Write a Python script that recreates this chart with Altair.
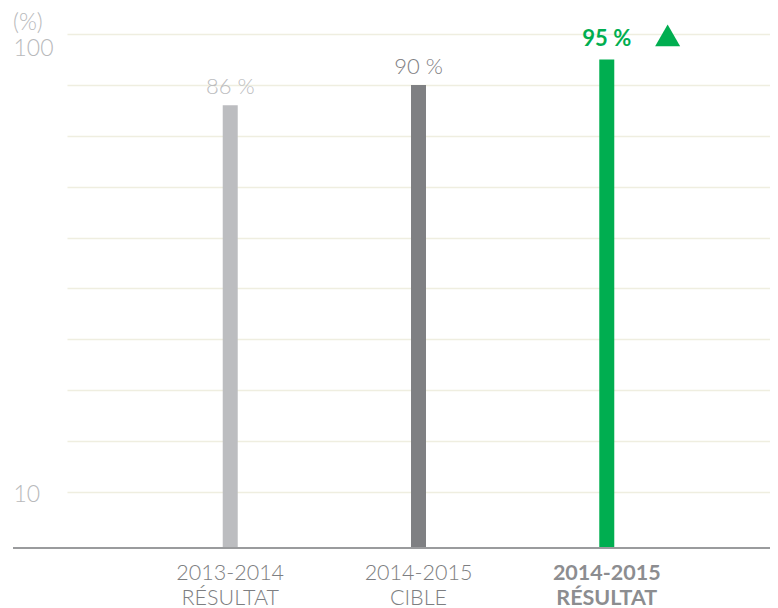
import altair as alt
import pandas as pd

categories = ["2013-2014|RÉSULTAT", "2014-2015|CIBLE", "2014-2015|RÉSULTAT"]
values = [86, 90, 95]
value_labels = ["86 %", "90 %", "95 %"]
bar_colors = ["#bcbdc0", "#7f8083", "#00ae50"]
label_colors = ["#b5b6b8", "#77787b", "#00ae50"]
grid_values = [10, 20, 30, 40, 50, 60, 70, 80, 90, 100]
shown_ticks = [10, 100]
baseline_value = -1

df = pd.DataFrame({"cat": categories, "value": values, "label": value_labels})
FONT = "Lato"
HIGHLIGHT = categories[2]
W = 703

x_enc = alt.X(
    "cat:N",
    sort=categories,
    scale=alt.Scale(paddingInner=0, paddingOuter=0.367, align=0.5),
    axis=alt.Axis(
        title=None, domain=False, ticks=False,
        labelExpr="split(datum.value, '|')",
        labelAngle=0, labelFont=FONT, labelFontSize=21.5, labelLineHeight=25,
        labelPadding=14, labelBaseline="top",
        labelColor={"condition": {"test": f"datum.value == '{HIGHLIGHT}'", "value": "#8c8d90"}, "value": "#7d7e81"},
        labelFontWeight={"condition": {"test": f"datum.value == '{HIGHLIGHT}'", "value": "bold"}, "value": 300},
    ),
)

y_scale = alt.Scale(domain=[baseline_value, 100], nice=False, zero=False)
label_expr = " || ".join(f"datum.value == {v}" for v in shown_ticks)

base = alt.Chart(df)

bars = base.mark_bar(size=15).encode(
    x=x_enc,
    y=alt.Y("value:Q", scale=y_scale,
            axis=alt.Axis(title=None, values=grid_values, domain=False, ticks=False,
                          gridColor="#efeee0", gridWidth=1.5,
                          labelExpr=f"({label_expr}) ? datum.label : ''",
                          labelAlign="left", labelPadding=54, labelFont=FONT,
                          labelFontSize=23, labelFontWeight=300, labelColor="#b8b9bb",
                          labelBaseline="middle",
                          labelOffset={"condition": {"test": "datum.value == 100", "value": 14}, "value": 2}),
            ),
    y2=alt.datum(baseline_value),
    color=alt.Color("cat:N", scale=alt.Scale(domain=categories, range=bar_colors), legend=None),
)

text_color = alt.Color("cat:N", scale=alt.Scale(domain=categories, range=label_colors), legend=None)

texts_normal = base.transform_filter(f"datum.cat != '{HIGHLIGHT}'").mark_text(
    dy=-11, baseline="alphabetic", font=FONT, fontSize=22, fontWeight=300
).encode(
    x=alt.X("cat:N", sort=categories),
    y=alt.Y("value:Q", scale=y_scale),
    text="label:N",
    color=text_color,
)

texts_bold = base.transform_filter(f"datum.cat == '{HIGHLIGHT}'").mark_text(
    dy=-13, baseline="alphabetic", font=FONT, fontSize=22, fontWeight="bold"
).encode(
    x=alt.X("cat:N", sort=categories),
    y=alt.Y("value:Q", scale=y_scale),
    text="label:N",
    color=text_color,
)

tri = base.transform_filter(f"datum.cat == '{HIGHLIGHT}'").mark_point(
    shape="triangle-up", size=625, filled=True, opacity=1, color="#00ae50"
).encode(
    x=alt.X("cat:N", sort=categories),
    y=alt.Y("value:Q", scale=y_scale),
    xOffset=alt.value(155),
    yOffset=alt.value(-24),
)

baseline = alt.Chart(pd.DataFrame({"y": [baseline_value]})).mark_rule(
    color="#9a9b9d", strokeWidth=2
).encode(
    y=alt.Y("y:Q", scale=y_scale),
    x=alt.value(-54), x2=alt.value(W),
)

unit = alt.Chart(pd.DataFrame({"t": ["(%)"]})).mark_text(
    align="left", baseline="middle", font=FONT, fontSize=23, fontWeight=300, color="#b8b9bb"
).encode(x=alt.value(-54), y=alt.value(-11), text="t:N")

chart = alt.layer(bars, baseline, texts_normal, texts_bold, tri, unit).properties(
    width=W, height=514,
    background="white",
    autosize=alt.AutoSizeParams(type="none"),
    padding={"left": 59, "top": 26, "right": 0, "bottom": 60},
).configure_view(stroke=None)

chart.save("out.html", embed_options={"renderer": "svg", "actions": False})
